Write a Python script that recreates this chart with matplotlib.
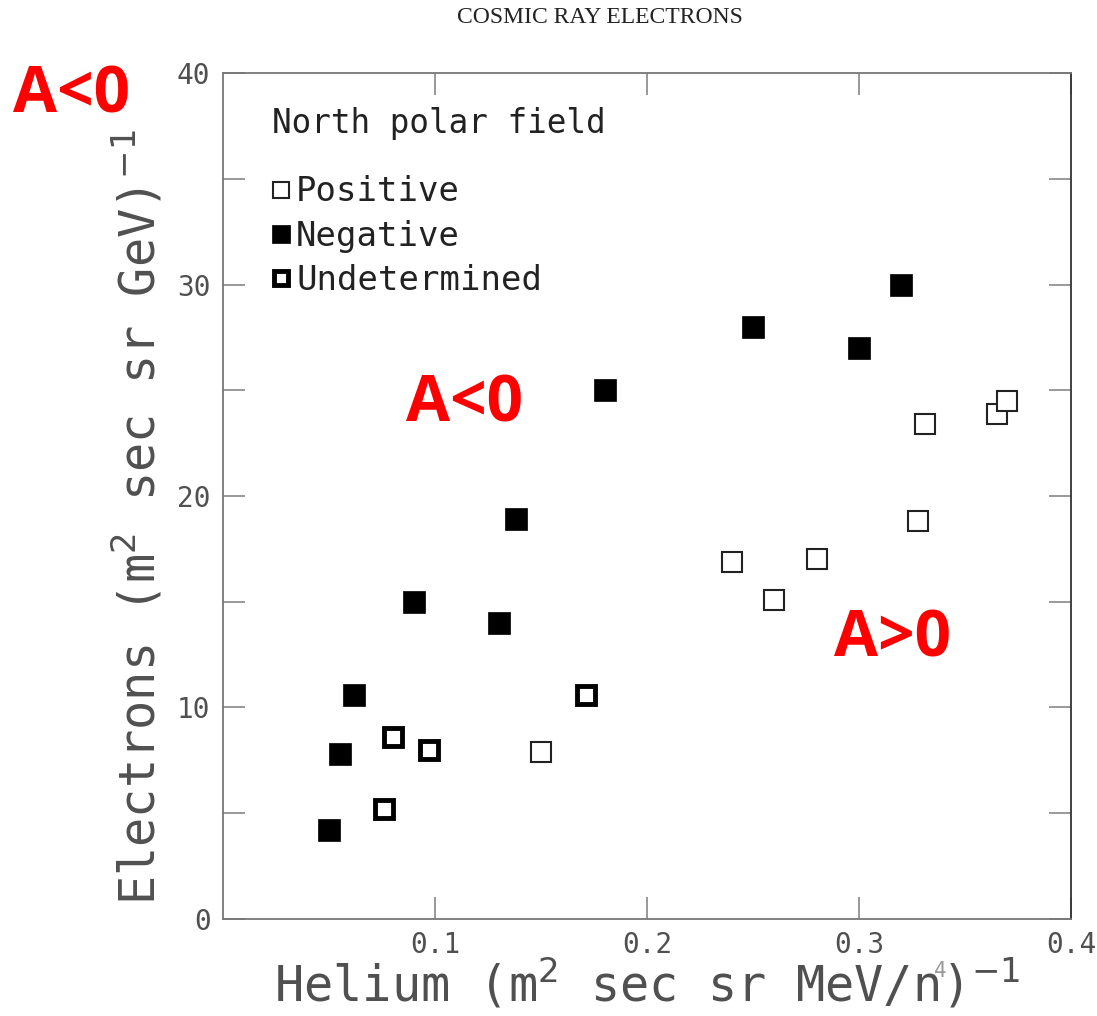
import matplotlib
matplotlib.use("Agg")
import matplotlib.pyplot as plt

# helium vs electron fluxes, split by sign of the north polar field
neg_he = [0.050, 0.055, 0.062, 0.090, 0.130, 0.138, 0.180, 0.250, 0.300, 0.320]
neg_el = [4.2, 7.8, 10.6, 15.0, 14.0, 18.9, 25.0, 28.0, 27.0, 30.0]

pos_he = [0.150, 0.240, 0.260, 0.280, 0.328, 0.331, 0.365, 0.370]
pos_el = [7.9, 16.9, 15.1, 17.0, 18.8, 23.4, 23.9, 24.5]

und_he = [0.076, 0.080, 0.097, 0.171]
und_el = [5.2, 8.6, 8.0, 10.6]

xticks = [0.1, 0.2, 0.3, 0.4]
yticks = [0, 5, 10, 15, 20, 25, 30, 35, 40]
ylabels = ["0", "", "10", "", "20", "", "30", "", "40"]

gray = "#505050"
mono = "DejaVu Sans Mono"  # closest to the wide plotter font of the original

fig = plt.figure(figsize=(10.97, 10.16), dpi=100)
ax = fig.add_axes([0.2033, 0.0955, 0.773, 0.8326])

ax.plot(pos_he, pos_el, "s", ms=15, mfc="white", mec="#222", mew=1.5,
        ls="none", label="Positive")
ax.plot(neg_he, neg_el, "s", ms=16, mfc="black", mec="black", mew=0.5,
        ls="none", label="Negative")
ax.plot(und_he, und_el, "s", ms=12.5, mfc="white", mec="black", mew=3.5,
        ls="none", label="Undetermined")

ax.set_xlim(0, 0.4)
ax.set_ylim(0, 40)
ax.set_xticks(xticks)
ax.set_xticklabels(["0.1", "0.2", "0.3", "0.4"], family=mono)
ax.set_yticks(yticks)
ax.set_yticklabels(ylabels, family=mono)
ax.tick_params(direction="in", length=16, width=1.2, color="#888",
               top=True, right=True, labelsize=20, labelcolor=gray, pad=9)
for side in ax.spines.values():
    side.set_color("#777")
    side.set_linewidth(1.3)
ax.spines["right"].set_color("#333")

ax.set_xlabel(r"Helium (m$^2$ sec sr MeV/n)$^{-1}$", fontsize=35,
              color=gray, family=mono, labelpad=-2)
ax.set_ylabel(r"Electrons (m$^2$ sec sr GeV)$^{-1}$", fontsize=35,
              color=gray, family=mono)
ax.yaxis.set_label_coords(-0.068, 0.475)
fig.text(0.851, 0.038, "4", fontsize=15, color="#999", family=mono)

# legend: title drawn separately so the gap below it can be wider
ax.text(0.058, 0.94, "North polar field", transform=ax.transAxes,
        fontsize=23.5, color="#222", family=mono, va="center")
leg = ax.legend(loc="upper left", bbox_to_anchor=(0.038, 0.895),
                frameon=False, handletextpad=0.1, handlelength=0.7,
                labelspacing=0.33, prop={"family": mono, "size": 24.5},
                borderaxespad=0, markerscale=0.8)
for t in leg.get_texts():
    t.set_color("#222")

fig.text(0.547, 0.983, "COSMIC RAY ELECTRONS", ha="center", va="center",
         fontsize=17, family="Liberation Serif", color="#222")

red = dict(color="red", fontsize=46, fontweight="bold", family="Open Sans",
           ha="center", va="center")
fig.text(0.065, 0.906, "A<0", **red)
ax.text(0.114, 24.3, "A<0", **red)
ax.text(0.316, 13.2, "A>0", **red)

fig.savefig("out.png", dpi=100)
